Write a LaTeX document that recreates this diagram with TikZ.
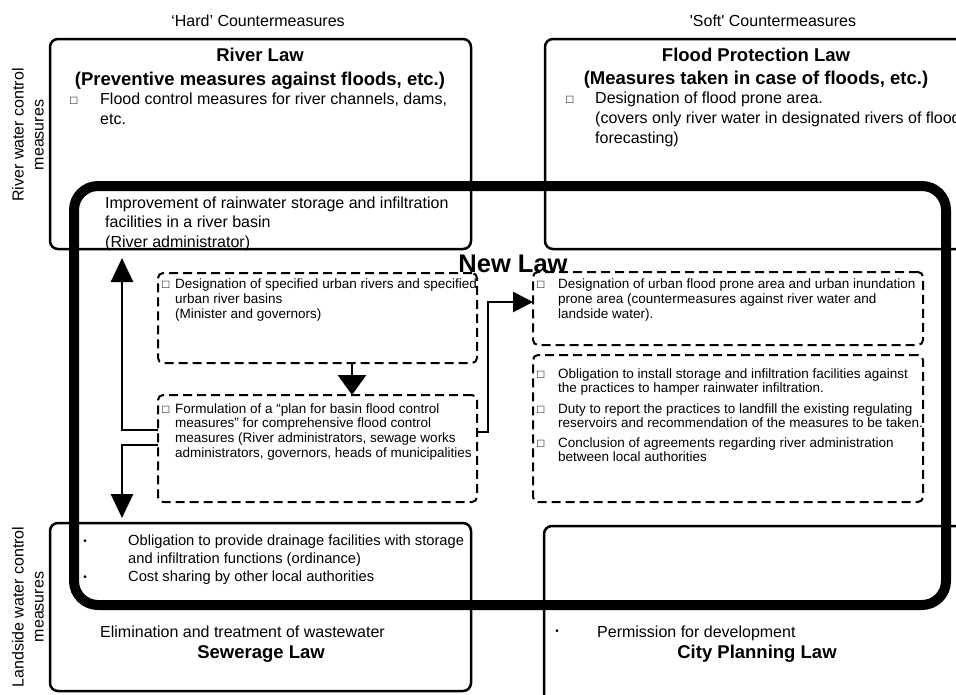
\documentclass[tikz,border=0pt]{standalone}
\usepackage{fontspec}
\setmainfont{Liberation Sans}
\usetikzlibrary{arrows.meta}
\begin{document}
\begin{tikzpicture}[x=1pt,y=-1pt,
  lawbox/.style={draw, line width=2.5pt, rounded corners=8pt, inner sep=0, outer sep=0, anchor=north west},
  dbox/.style={draw, line width=2pt, dash pattern=on 9pt off 5pt, rounded corners=5pt, inner sep=0, outer sep=0, anchor=north west},
  newbox/.style={draw, line width=10pt, rounded corners=24pt, inner sep=0, outer sep=0, anchor=north west},
  body/.style={font=\fontsize{16}{20}\selectfont, inner sep=0, anchor=north west, align=left},
  smalltxt/.style={font=\fontsize{13.5}{15}\selectfont, inner sep=0, anchor=north west, align=left},
  headtxt/.style={font=\fontsize{16}{20}\selectfont, inner sep=0, anchor=base},
  titletxt/.style={font=\bfseries\fontsize{18.5}{22}\selectfont, inner sep=0, anchor=base},
  sqbullet/.style={font=\fontsize{12}{14}\selectfont, inner sep=0, anchor=base west},
  dotbullet/.style={font=\fontsize{10}{12}\selectfont, inner sep=0},
  sidelabel/.style={rotate=90, align=center, font=\fontsize{16}{20}\selectfont, inner sep=0},
  arrbig/.style={line width=2.8pt, -{Triangle[length=24pt,width=22pt]}},
  arrmid/.style={line width=2.8pt, -{Triangle[length=20pt,width=28pt]}},
  arrsmall/.style={line width=2.8pt, -{Triangle[length=20pt,width=20pt]}},
]
\useasboundingbox (0,0) rectangle (956,694);

% column headers
\node[headtxt] (hard) at (258,26) {`Hard' Countermeasures};
\node[headtxt] (soft) at (773,26) {\textquotesingle Soft\textquotesingle{} Countermeasures};

% side labels
\node[sidelabel] (rwlabel) at (28,135) {River water control\\measures};
\node[sidelabel] (lwlabel) at (28,607) {Landside water control\\measures};

% law boxes
\node[lawbox, minimum width=421pt, minimum height=210pt] (riverlaw) at (50,39) {};
\node[lawbox, minimum width=455pt, minimum height=210pt] (floodlaw) at (545,39) {};
\node[lawbox, minimum width=421pt, minimum height=168pt] (sewerlaw) at (50,523) {};
\node[lawbox, minimum width=456pt, minimum height=200pt] (citylaw) at (544,526) {};

% New Law box
\node[newbox, minimum width=872pt, minimum height=419pt] (newlaw) at (74,186) {};
\node[font=\bfseries\fontsize{25.5}{28}\selectfont, inner sep=0, anchor=base] (newlawtitle) at (513,272) {New Law};

% dashed boxes
\node[dbox, minimum width=319pt, minimum height=90pt] (d1) at (158,273) {};
\node[dbox, minimum width=319pt, minimum height=107pt] (d2) at (158,395) {};
\node[dbox, minimum width=390pt, minimum height=73pt] (d3) at (533,272) {};
\node[dbox, minimum width=390pt, minimum height=147pt] (d4) at (533,355) {};

% River Law texts
\node[titletxt] (rl1) at (260,61) {River Law};
\node[titletxt] (rl2) at (260,85) {(Preventive measures against floods, etc.)};
\node[sqbullet] (rlb) at (70,104) {□};
\node[body] (rltext) at (100,92.3) {Flood control measures for river channels, dams,\\etc.};
\node[body, font=\fontsize{16}{19.5}\selectfont] (improve) at (105,196.3) {Improvement of rainwater storage and infiltration\\facilities in a river basin\\(River administrator)};

% Flood Protection Law texts
\node[titletxt] (fl1) at (756,61.5) {Flood Protection Law};
\node[titletxt] (fl2) at (756,84) {(Measures taken in case of floods, etc.)};
\node[sqbullet] (flb) at (566,103) {□};
\node[body] (fltext) at (595,91.3) {Designation of flood prone area.\\(covers only river water in designated rivers of flood\\forecasting)};

% dashed box texts
\node[sqbullet] (d1b) at (162,288) {□};
\node[smalltxt] (d1text) at (175,278.1) {Designation of specified urban rivers and specified\\urban river basins\\(Minister and governors)};
\node[sqbullet] (d2b) at (162,413) {□};
\node[smalltxt, font=\fontsize{13.5}{14.7}\selectfont] (d2text) at (175,403.1) {Formulation of a “plan for basin flood control\\measures” for comprehensive flood control\\measures (River administrators, sewage works\\administrators, governors, heads of municipalities};
\node[sqbullet] (d3b) at (537,288) {□};
\node[smalltxt] (d3text) at (558,278.1) {Designation of urban flood prone area and urban inundation\\prone area (countermeasures against river water and\\landside water).};
\node[sqbullet] (d4b1) at (537,378) {□};
\node[smalltxt, font=\fontsize{13.5}{14.3}\selectfont] (d4t1) at (558,368.1) {Obligation to install storage and infiltration facilities against\\the practices to hamper rainwater infiltration.};
\node[sqbullet] (d4b2) at (537,413) {□};
\node[smalltxt, font=\fontsize{13.5}{14.3}\selectfont] (d4t2) at (558,403.1) {Duty to report the practices to landfill the existing regulating\\reservoirs and recommendation of the measures to be taken.};
\node[sqbullet] (d4b3) at (537,447) {□};
\node[smalltxt, font=\fontsize{13.5}{14.3}\selectfont] (d4t3) at (558,437.1) {Conclusion of agreements regarding river administration\\between local authorities};

% Sewerage Law texts
\node[dotbullet] (swb1) at (85,542) {•};
\node[dotbullet] (swb2) at (85,578) {•};
\node[body, font=\fontsize{14.7}{18}\selectfont] (swtext) at (128,534.3) {Obligation to provide drainage facilities with storage\\and infiltration functions (ordinance)\\Cost sharing by other local authorities};
\node[body] (swelim) at (100,625.3) {Elimination and treatment of wastewater};
\node[titletxt] (sw1) at (261,658) {Sewerage Law};

% City Planning Law texts
\node[dotbullet] (cpb) at (557,632) {•};
\node[body] (cptext) at (597,625.3) {Permission for development};
\node[titletxt] (cp1) at (757,658) {City Planning Law};

% connectors
\coordinate (uptip) at (122,258);
\coordinate (dntip) at (122,518);
\coordinate (bend) at (488,302);
\draw[arrbig] ([yshift=-35pt]d2.north west) -| (uptip);
\draw[arrbig] ([yshift=-50pt]d2.north west) -| (dntip);
\draw[arrmid] ([xshift=34.5pt]d1.south) -- ([xshift=34.5pt]d2.north);
\draw[arrsmall] ([yshift=-37pt]d2.north east) -| (bend) -- (bend -| d3.west);
\end{tikzpicture}
\end{document}
